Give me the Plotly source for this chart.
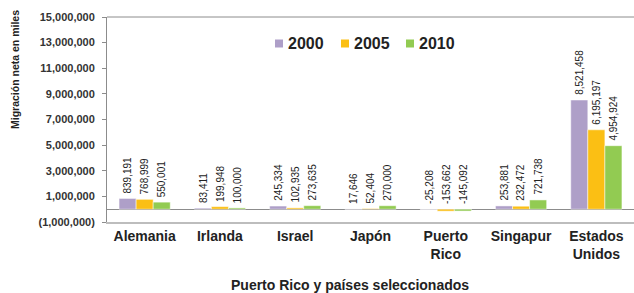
import plotly.graph_objects as go

categories = ["Alemania", "Irlanda", "Israel", "Japón", "Puerto<br>Rico", "Singapur", "Estados<br>Unidos"]
series_names = ["2000", "2005", "2010"]
v2000 = [839191, 83411, 245334, 17646, -25208, 253881, 8521458]
v2005 = [768999, 199948, 102935, 52404, -153662, 232472, 6195197]
v2010 = [550001, 100000, 273635, 270000, -145092, 721738, 4954924]
colors = ["#ae9fc8", "#fbbf14", "#92cb52"]
ytickvals = [-1000000, 1000000, 3000000, 5000000, 7000000, 9000000, 11000000, 13000000, 15000000]
yticktext = ["(1,000,000)", "1,000,000", "3,000,000", "5,000,000", "7,000,000", "9,000,000",
             "11,000,000", "13,000,000", "15,000,000"]

FONT = "Liberation Sans, Arial, sans-serif"
bargap = 0.32
bw = (1 - bargap) / 3
L, R, T, B = 107, 0, 17, 71
W, H = 634, 293
PW, PH = W - L - R, H - T - B


def px_x(x):
    return (x - L) / PW


def px_y(y):
    return (H - B - y) / PH


fig = go.Figure()
xs = list(range(len(categories)))
all_vals = [v2000, v2005, v2010]
for k, (name, vals, col) in enumerate(zip(series_names, all_vals, colors)):
    fig.add_trace(go.Bar(x=xs, y=vals, name=name, showlegend=False,
                         marker=dict(color=col, line=dict(color="white", width=0.5))))

annotations = []
for k, vals in enumerate(all_vals):
    for i, v in enumerate(vals):
        annotations.append(dict(
            x=i + (k - 1) * bw, y=max(v, 0), xref="x", yref="y",
            text=f"{v:,}", showarrow=False, textangle=-90,
            xanchor="center", yanchor="bottom", yshift=3,
            font=dict(family=FONT, size=10, color="#222222")))

annotations.append(dict(x=px_x(350), y=px_y(285), xref="paper", yref="paper",
                        xanchor="center", yanchor="middle",
                        text="<b>Puerto Rico y países seleccionados</b>", showarrow=False,
                        font=dict(family=FONT, size=14, color="#222222")))
annotations.append(dict(x=px_x(15), y=px_y(70), xref="paper", yref="paper",
                        xanchor="center", yanchor="middle", showarrow=False, textangle=-90,
                        text="<b>Migración neta en miles</b>",
                        font=dict(family=FONT, size=10.5, color="#222222")))

# legend drawn as squares + text
shapes = []
leg_x = [275, 341, 406]
leg_y = 43.5
for name, col, lx in zip(series_names, colors, leg_x):
    shapes.append(dict(type="rect", xref="paper", yref="paper",
                       x0=px_x(lx), x1=px_x(lx + 8), y0=px_y(leg_y + 4), y1=px_y(leg_y - 4),
                       fillcolor=col, line=dict(width=0)))
    annotations.append(dict(x=px_x(lx + 11), y=px_y(leg_y), xref="paper", yref="paper",
                            xanchor="left", yanchor="middle", showarrow=False,
                            text=f"<b>{name}</b>", font=dict(family=FONT, size=16, color="#222222")))

shapes.append(dict(type="line", xref="paper", yref="paper", x0=0, x1=1, y0=1, y1=1,
                   line=dict(color="#8c8c8c", width=1)))

fig.update_layout(
    width=W, height=H,
    margin=dict(l=L, r=R, t=T, b=B, autoexpand=False),
    paper_bgcolor="white", plot_bgcolor="white",
    barmode="group", bargap=bargap, bargroupgap=0,
    showlegend=False,
    annotations=annotations, shapes=shapes,
    font=dict(family=FONT),
)
fig.update_xaxes(
    range=[-0.5, 6.5], tickvals=xs, ticktext=[f"<b>{c}</b>" for c in categories],
    tickfont=dict(family=FONT, size=14, color="#222222"),
    showline=True, linecolor="#bdbdbd", linewidth=2, mirror=False,
    ticks="", showgrid=False, zeroline=False, automargin=False,
)
fig.update_yaxes(
    range=[-1000000, 15000000], tickvals=ytickvals, ticktext=[f"<b>{t}</b>" for t in yticktext],
    tickfont=dict(family=FONT, size=11, color="#333333"),
    showline=True, linecolor="#8c8c8c", linewidth=1,
    ticks="outside", ticklen=4, tickcolor="#8c8c8c", ticklabelstandoff=5,
    showgrid=False, zeroline=True, zerolinecolor="#8c8c8c", zerolinewidth=1, automargin=False,
)

fig.write_html("out.html", config={"displayModeBar": False},
               post_script="document.body.style.margin='0';")
